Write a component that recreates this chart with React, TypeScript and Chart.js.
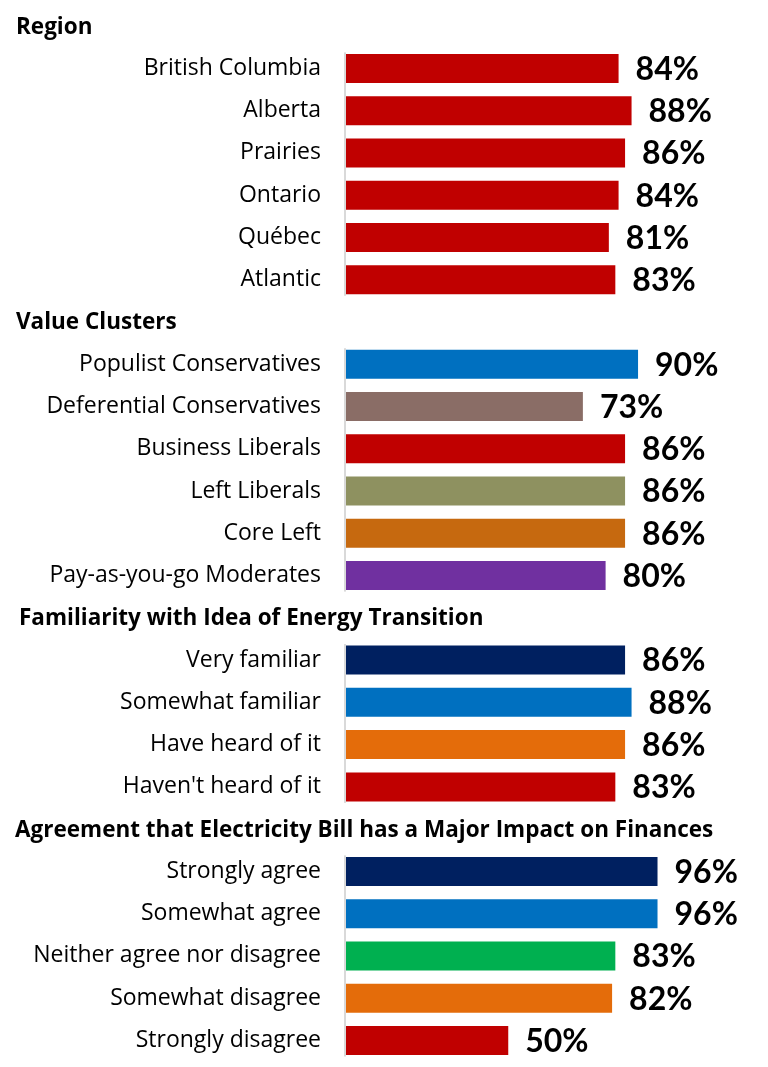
import React, { useEffect, useRef } from "react";
import { Chart, registerables } from "chart.js";

Chart.register(...registerables);

const groupTitles = [
  "Region",
  "Value Clusters",
  "Familiarity with Idea of Energy Transition",
  "Agreement that Electricity Bill has a Major Impact on Finances",
];

const regionLabels = ["British Columbia", "Alberta", "Prairies", "Ontario", "Québec", "Atlantic"];
const regionValues = [84, 88, 86, 84, 81, 83];
const regionColors = ["#C00000", "#C00000", "#C00000", "#C00000", "#C00000", "#C00000"];

const clusterLabels = [
  "Populist Conservatives",
  "Deferential Conservatives",
  "Business Liberals",
  "Left Liberals",
  "Core Left",
  "Pay-as-you-go Moderates",
];
const clusterValues = [90, 73, 86, 86, 86, 80];
const clusterColors = ["#0070C0", "#8A6D66", "#C00000", "#8E9160", "#C6690F", "#7030A0"];

const familiarityLabels = ["Very familiar", "Somewhat familiar", "Have heard of it", "Haven't heard of it"];
const familiarityValues = [86, 88, 86, 83];
const familiarityColors = ["#002060", "#0070C0", "#E46C0A", "#C00000"];

const agreementLabels = [
  "Strongly agree",
  "Somewhat agree",
  "Neither agree nor disagree",
  "Somewhat disagree",
  "Strongly disagree",
];
const agreementValues = [96, 96, 83, 82, 50];
const agreementColors = ["#002060", "#0070C0", "#00B050", "#E46C0A", "#C00000"];

const headerIndent = [16, 16, 19, 15];

const groups = [
  { labels: regionLabels, values: regionValues, colors: regionColors },
  { labels: clusterLabels, values: clusterValues, colors: clusterColors },
  { labels: familiarityLabels, values: familiarityValues, colors: familiarityColors },
  { labels: agreementLabels, values: agreementValues, colors: agreementColors },
];

// Build combined rows (header row + items per group)
const rowLabels: string[] = [];
const rowValues: (number | null)[] = [];
const rowColors: string[] = [];
const rowHeader: number[] = []; // -1 for item rows, group index for header rows
const groupRanges: [number, number][] = [];
groups.forEach((g, gi) => {
  rowLabels.push(groupTitles[gi]);
  rowValues.push(null);
  rowColors.push("rgba(0,0,0,0)");
  rowHeader.push(gi);
  const start = rowLabels.length;
  g.labels.forEach((l, i) => {
    rowLabels.push(l);
    rowValues.push(g.values[i]);
    rowColors.push(g.colors[i]);
    rowHeader.push(-1);
  });
  groupRanges.push([start, rowLabels.length - 1]);
});

const LABEL_FONT = "'Open Sans', sans-serif";
const VALUE_FONT = "Lato, 'Open Sans', sans-serif";

const overlayPlugin = {
  id: "overlay",
  afterDatasetsDraw(chart: any) {
    const ctx = chart.ctx as CanvasRenderingContext2D;
    const meta = chart.getDatasetMeta(0);
    const yScale = chart.scales.y;
    ctx.save();
    // group headers
    ctx.fillStyle = "#000";
    ctx.textAlign = "left";
    ctx.textBaseline = "alphabetic";
    ctx.font = `bold 22.5px ${LABEL_FONT}`;
    rowHeader.forEach((h, i) => {
      if (h >= 0) {
        const y = yScale.getPixelForValue(i);
        ctx.fillText(rowLabels[i], headerIndent[h], y + 7.5);
      }
    });
    // axis line segments
    ctx.fillStyle = "#D9D9D9";
    const left = chart.chartArea.left;
    groupRanges.forEach(([a, b]) => {
      const ea = meta.data[a];
      const eb = meta.data[b];
      const top = ea.y - ea.height / 2 - 1.5;
      const bottom = eb.y + eb.height / 2 + 1.5;
      ctx.fillRect(left - 2, top, 2, bottom - top);
    });
    // value labels
    ctx.fillStyle = "#000";
    ctx.font = `bold 32px ${VALUE_FONT}`;
    ctx.textBaseline = "middle";
    meta.data.forEach((el: any, i: number) => {
      const v = rowValues[i];
      if (v === null || v === undefined) return;
      ctx.fillText(`${v}%`, el.x + 17, el.y + 1);
    });
    ctx.restore();
  },
};

export default function App() {
  const ref = useRef<HTMLCanvasElement | null>(null);
  useEffect(() => {
    if (!ref.current) return;
    const chart = new Chart(ref.current, {
      type: "bar",
      data: {
        labels: rowLabels,
        datasets: [
          {
            data: rowValues as any,
            backgroundColor: rowColors,
            borderWidth: 0,
            barPercentage: 0.686,
            categoryPercentage: 1,
          },
        ],
      },
      options: {
        indexAxis: "y",
        responsive: false,
        animation: false,
        devicePixelRatio: 1,
        layout: { padding: { top: 5, bottom: 5.4, left: 0, right: 97.5 } },
        plugins: {
          legend: { display: false },
          tooltip: { enabled: false },
          title: { display: false },
        },
        scales: {
          x: { display: false, min: 0, max: 100 },
          y: {
            afterFit: (scale: any) => {
              scale.width = 346;
              scale.paddingTop = 0;
              scale.paddingBottom = 0;
            },
            grid: { display: false, drawTicks: false },
            border: { display: false },
            ticks: {
              autoSkip: false,
              padding: 25,
              color: "#000",
              font: { family: LABEL_FONT, size: 23 },
              callback: (_v: any, i: number) => (rowHeader[i] >= 0 ? "" : rowLabels[i]),
            },
          },
        },
      },
      plugins: [overlayPlugin],
    });
    return () => chart.destroy();
  }, []);
  return (
    <div style={{ position: "absolute", left: 0, top: 0, width: 768, height: 1067, background: "#fff" }}>
      <canvas ref={ref} width={768} height={1067} style={{ display: "block", width: 768, height: 1067 }} />
    </div>
  );
}
